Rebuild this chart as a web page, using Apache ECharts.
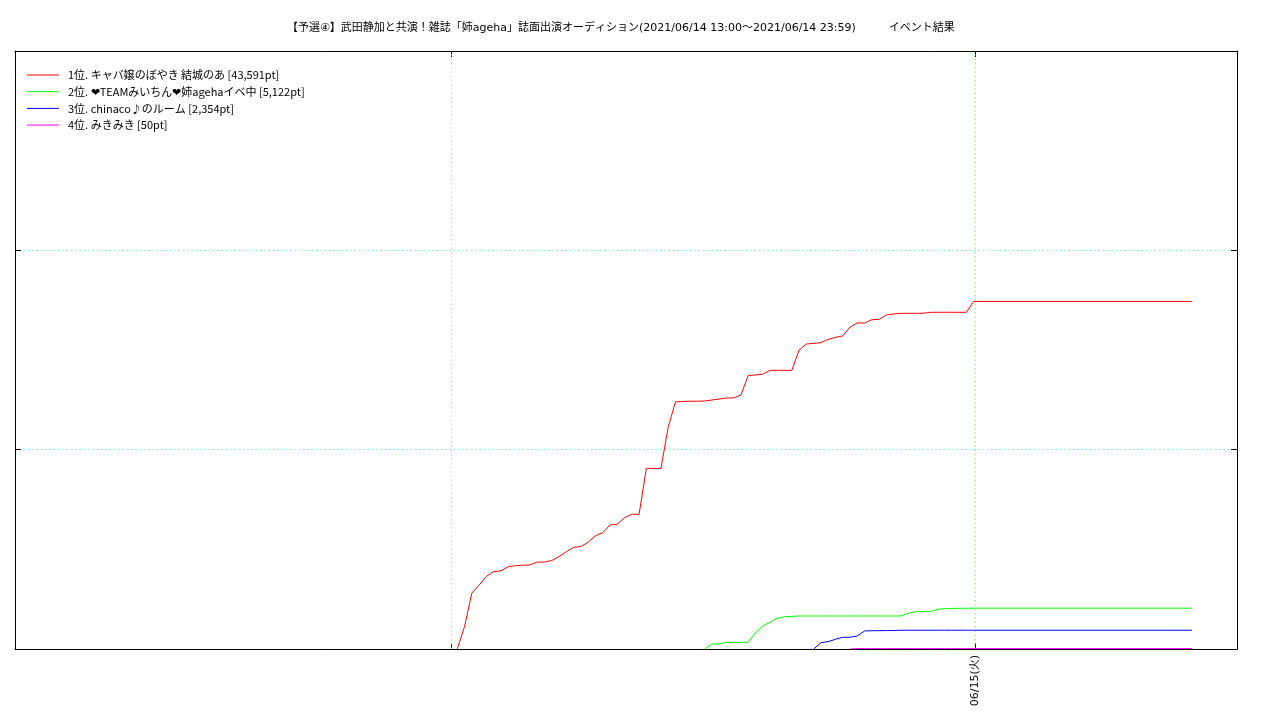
<!DOCTYPE html>
<html>
<head>
<meta charset="utf-8">
<script src="https://cdn.jsdelivr.net/npm/echarts@6/dist/echarts.min.js"></script>
<style>
html,body{margin:0;padding:0;background:#fff;}
#chart{width:1280px;height:720px;}
</style>
</head>
<body>
<div id="chart"></div>
<script>
const titleText = '【予選④】武田静加と共演！雑誌「姉ageha」誌面出演オーディション(2021/06/14 13:00〜2021/06/14 23:59)　　　イベント結果';
const seriesNames = [
  '1位. キャバ嬢のぼやき 結城のあ [43,591pt]',
  '2位. ❤TEAMみいちん❤姉agehaイベ中 [5,122pt]',
  '3位. chinaco♪のルーム [2,354pt]',
  '4位. みきみき [50pt]'
];
const seriesColors = ['#ff0000', '#00ff00', '#0000ff', '#ff00ff'];
const xTickLabel = '06/15(火)';

const times = [
  '06/14 12:08','06/14 12:18','06/14 12:28','06/14 12:38','06/14 12:48','06/14 12:58',
  '06/14 13:08','06/14 13:18','06/14 13:28','06/14 13:38','06/14 13:48','06/14 13:58',
  '06/14 14:08','06/14 14:18','06/14 14:28','06/14 14:38','06/14 14:48','06/14 14:58',
  '06/14 15:08','06/14 15:18','06/14 15:28','06/14 15:38','06/14 15:48','06/14 15:58',
  '06/14 16:08','06/14 16:18','06/14 16:28','06/14 16:38','06/14 16:48','06/14 16:58',
  '06/14 17:08','06/14 17:18','06/14 17:28','06/14 17:38','06/14 17:48','06/14 17:58',
  '06/14 18:08','06/14 18:18','06/14 18:28','06/14 18:38','06/14 18:48','06/14 18:58',
  '06/14 19:08','06/14 19:18','06/14 19:28','06/14 19:38','06/14 19:48','06/14 19:58',
  '06/14 20:08','06/14 20:18','06/14 20:28','06/14 20:38','06/14 20:48','06/14 20:58',
  '06/14 21:08','06/14 21:18','06/14 21:28','06/14 21:38','06/14 21:48','06/14 21:58',
  '06/14 22:08','06/14 22:18','06/14 22:28','06/14 22:38','06/14 22:48','06/14 22:58',
  '06/14 23:08','06/14 23:18','06/14 23:28','06/14 23:38','06/14 23:48','06/14 23:58',
  '06/15 04:58'
];

const redValues = [
  0,2800,7000,8000,9100,9700,9800,10300,10450,10500,
  10550,10900,10900,11100,11600,12200,12750,12850,13400,14200,
  14600,15550,15650,16450,16900,16900,22650,22650,22650,27800,
  31000,31050,31070,31080,31100,31230,31350,31480,31480,31850,
  34300,34370,34450,34950,34950,34950,34950,37500,38250,38340,
  38420,38840,39090,39260,40380,40890,40890,41300,41350,41890,
  42020,42100,42100,42100,42100,42230,42230,42230,42230,42230,
  42230,43591,43591
];
const greenValues = [
  null,null,null,null,null,null,null,null,null,null,
  null,null,null,null,null,null,null,null,null,null,
  null,null,null,null,null,null,null,null,null,null,
  null,null,null,null,0,627,627,840,840,840,
  840,2040,2880,3350,3850,4050,4090,4140,4140,4140,
  4140,4140,4140,4140,4140,4140,4140,4140,4140,4140,
  4140,4140,4480,4680,4680,4680,4980,5050,5080,5100,
  5110,5122,5122
];
const blueValues = [
  null,null,null,null,null,null,null,null,null,null,
  null,null,null,null,null,null,null,null,null,null,
  null,null,null,null,null,null,null,null,null,null,
  null,null,null,null,null,null,null,null,null,null,
  null,null,null,null,null,null,null,null,null,0,
  790,920,1220,1470,1470,1630,2260,2290,2300,2310,
  2320,2350,2354,2354,2354,2354,2354,2354,2354,2354,
  2354,2354,2354
];
const magentaValues = [
  null,null,null,null,null,null,null,null,null,null,
  null,null,null,null,null,null,null,null,null,null,
  null,null,null,null,null,null,null,null,null,null,
  null,null,null,null,null,null,null,null,null,null,
  null,null,null,null,null,null,null,null,null,null,
  null,null,null,null,0,50,50,50,50,50,
  50,50,50,50,50,50,50,50,50,50,
  50,50,50
];

// hours since 06/14 00:00
function toHours(s) {
  const [md, hm] = s.split(' ');
  const day = parseInt(md.split('/')[1], 10);
  const [h, m] = hm.split(':').map(Number);
  return (day - 14) * 24 + h + m / 60;
}
function build(values) {
  const out = [];
  for (let i = 0; i < times.length; i++) {
    if (values[i] !== null) out.push([toHours(times[i]), values[i]]);
  }
  return out;
}

const xMin = 2, xMax = 30;
const yMin = 0, yMax = 75000, yStep = 25000;
const gridHours = [12, 24];
const gridColors = ['#60f0f0', '#60f060'];
const labelHours = [24];

const FONT = '"Noto Sans CJK JP", "Noto Sans", sans-serif';
const TFONT = '"DejaVu Sans", "Noto Sans CJK JP", sans-serif';
const DOT = [1.5, 2.8];
const chart = echarts.init(document.getElementById('chart'), null, {renderer: 'canvas'});

// vertical grid lines as simple two-point line series
const gridSeries = gridHours.map((h, i) => ({
  type: 'line',
  data: [[h, yMin], [h, yMax]],
  symbol: 'none',
  showSymbol: false,
  silent: true,
  lineStyle: {color: gridColors[i], type: DOT, width: 1},
  emphasis: {disabled: true},
  animation: false,
  z: 1
}));

const allValues = [redValues, greenValues, blueValues, magentaValues];
const dataSeries = allValues.map((vals, i) => ({
  name: seriesNames[i],
  type: 'line',
  data: build(vals),
  symbol: 'none',
  showSymbol: false,
  lineStyle: {color: seriesColors[i], width: 1},
  itemStyle: {color: seriesColors[i]},
  animation: false,
  z: 3
}));

const axisLineStyle = {show: true, onZero: false, lineStyle: {color: '#000', width: 1}};
chart.setOption({
  animation: false,
  backgroundColor: '#fff',
  title: {
    text: titleText,
    left: 282,
    top: 18,
    textStyle: {fontFamily: TFONT, fontSize: 11, fontWeight: 'normal', color: '#000'}
  },
  legend: {
    orient: 'vertical',
    left: 22,
    top: 63,
    itemWidth: 32,
    itemHeight: 1,
    itemGap: 2.7,
    icon: 'rect',
    data: seriesNames,
    textStyle: {fontFamily: FONT, fontSize: 11, lineHeight: 14, color: '#000', padding: [0, 0, 0, 4]},
    selectedMode: false
  },
  grid: {left: 15, right: 43, top: 51, bottom: 71, containLabel: false, outerBoundsMode: 'none'},
  xAxis: [
    {
      type: 'value', position: 'bottom', min: xMin, max: xMax,
      axisLine: axisLineStyle,
      axisTick: {show: true, inside: true, length: 6, customValues: gridHours, lineStyle: {color: '#000'}},
      axisLabel: {show: true, customValues: labelHours, rotate: 90, formatter: () => xTickLabel,
        fontFamily: TFONT, fontSize: 11, color: '#000', margin: 6},
      splitLine: {show: false}
    },
    {
      type: 'value', position: 'top', min: xMin, max: xMax,
      axisLine: axisLineStyle,
      axisTick: {show: true, inside: true, length: 6, customValues: gridHours, lineStyle: {color: '#000'}},
      axisLabel: {show: false},
      splitLine: {show: false}
    }
  ],
  yAxis: [
    {
      type: 'value', position: 'left', min: yMin, max: yMax, interval: yStep,
      axisLine: axisLineStyle,
      axisTick: {show: true, inside: true, length: 6, lineStyle: {color: '#000'}},
      axisLabel: {show: false},
      splitLine: {show: true, lineStyle: {color: '#60f0f0', type: DOT, width: 1}}
    },
    {
      type: 'value', position: 'right', min: yMin, max: yMax, interval: yStep,
      axisLine: axisLineStyle,
      axisTick: {show: true, inside: true, length: 6, lineStyle: {color: '#000'}},
      axisLabel: {show: false},
      splitLine: {show: false}
    }
  ],
  series: gridSeries.concat(dataSeries)
});
</script>
</body>
</html>
